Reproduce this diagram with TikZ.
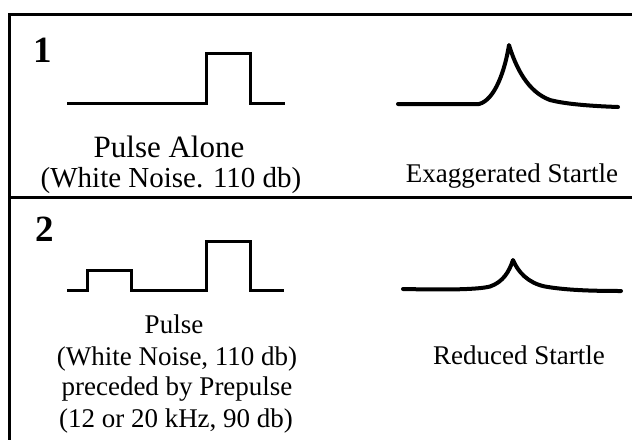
\documentclass[tikz,border=0pt]{standalone}
\usepackage{fontspec}
\setmainfont{Liberation Serif}
\begin{document}
\begin{tikzpicture}[x=1pt,y=-1pt,
  frameline/.style={line width=3pt},
  pulseline/.style={line width=3pt, line join=miter},
  startleline/.style={line width=4pt, line cap=round, line join=round},
  panelnum/.style={anchor=base, inner sep=0pt, font=\fontsize{37}{37}\selectfont\bfseries},
  labeltop/.style={anchor=base, inner sep=0pt, font=\fontsize{29}{31}\selectfont},
  labelsm/.style={anchor=base, inner sep=0pt, font=\fontsize{27}{31}\selectfont}]
\useasboundingbox (0,0) rectangle (632,440);

% frame: top rule, divider, left rule
\coordinate (tl) at (9.5,14.5);
\coordinate (tr) at (632,14.5);
\coordinate (ml) at (9.5,197);
\coordinate (mr) at (632,197);
\coordinate (bl) at (9.5,440);
\draw[frameline] (8,14.5) -- (tr);
\draw[frameline] (ml) -- (mr);
\draw[frameline] (tl) -- (bl);

% panel 1
\node[panelnum] (n1) at (43,62.7) {1};
\draw[pulseline] (67,103.5) -- (206,103.5) -- (206,53.5) -- (250.5,53.5) -- (250.5,103.5) -- (285,103.5);
\draw[startleline] (398,104) -- (479,104)
  .. controls (495,100) and (505,70) .. (509,45)
  .. controls (516,68) and (528,92) .. (550,100)
  .. controls (565,104) and (590,106) .. (618,107);
\node[labeltop, font=\fontsize{31}{31}\selectfont] (p1a) at (169,157) {Pulse Alone};
\node[labeltop] (p1b) at (171,187) {(White Noise. 110 db)};
\node[labelsm] (r1) at (512,182) {Exaggerated Startle};

% panel 2
\node[panelnum] (n2) at (45,241.7) {2};
\draw[pulseline] (67,290) -- (87,290) -- (87,270) -- (131,270) -- (131,290) -- (206,290) -- (206,241) -- (250,241) -- (250,290) -- (284,290);
\draw[startleline] (403,289)
  .. controls (450,290) and (478,289.5) .. (490,286.5)
  .. controls (503,282) and (509,272) .. (513,260)
  .. controls (518,272) and (528,283) .. (545,286.5)
  .. controls (565,290) and (590,291) .. (621,291);
\node[labelsm] (p2a) at (174,333) {Pulse};
\node[labelsm] (p2b) at (177,365) {(White Noise, 110 db)};
\node[labelsm] (p2c) at (177,395) {preceded by Prepulse};
\node[labelsm] (p2d) at (176,427) {(12 or 20 kHz, 90 db)};
\node[labelsm] (r2) at (519,364) {Reduced Startle};
\end{tikzpicture}
\end{document}
